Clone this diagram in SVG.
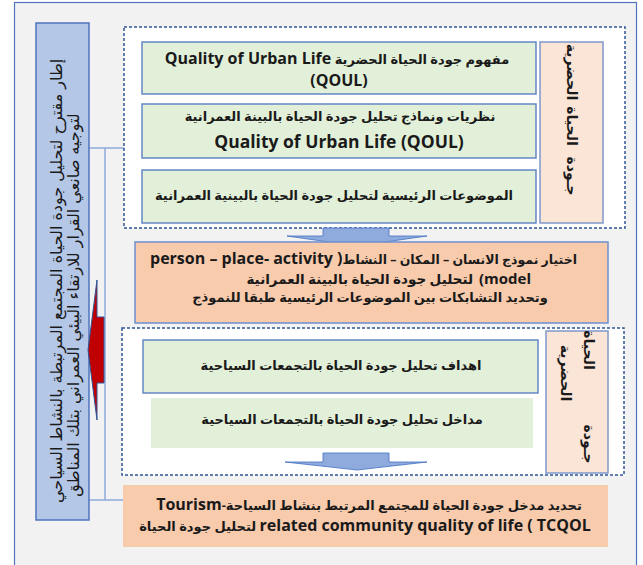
<svg xmlns="http://www.w3.org/2000/svg" width="643" height="565" viewBox="0 0 643 565">
<defs>
<style>
.t{font-family:"Open Sans","DejaVu Sans",sans-serif;font-weight:bold;font-size:13px;fill:#1a1a1a;text-anchor:middle}
.v{font-family:"DejaVu Sans",sans-serif;font-size:16px;fill:#1a1a1a;text-anchor:middle}
.p{font-family:"DejaVu Sans",sans-serif;font-weight:bold;font-size:14px;fill:#1a1a1a;text-anchor:middle}
.green{fill:#e2f0d9;stroke:#6486c6;stroke-width:1.5}
.peach{fill:#fbe5d6;stroke:#7f99cc;stroke-width:1.5}
.dash{fill:#ffffff;stroke:#2f5597;stroke-width:1.5;stroke-dasharray:3 2}
.barrow{fill:#8faadc;stroke:#4472c4;stroke-width:0.8}
</style>
</defs>
<rect x="14.5" y="2.5" width="622" height="575" fill="#f2f2f2" stroke="#4f74bd" stroke-width="1.2"/>

<g id="connectors" fill="none" stroke="#8faadc" stroke-width="1.5">
<path d="M89,148 H142 M105,148 V500 M89,500 H123"/>
</g>

<g id="frame-box">
<rect x="36" y="23" width="53" height="497" fill="#b4c7e7" stroke="#4f74bd" stroke-width="1.5"/>
<text class="v" transform="translate(62,281) rotate(-90)" direction="rtl">إطار مقترح لتحليل جودة الحياة المجتمع المرتبطة بالنشاط السياحي</text>
<text class="v" transform="translate(79,305) rotate(-90)" direction="rtl">لتوجيه صانعي القرار للارتقاء البيئي العمراني بتلك المناطق</text>
</g>

<g id="red-arrow">
<polygon points="88,350 97,280 97,317 104,317 104,383 97,383 97,420" fill="#c00000" stroke="#2f5597" stroke-width="1"/>
</g>

<g id="group1">
<rect class="dash" x="124" y="27" width="501" height="201"/>
</g>

<g id="arrow1">
<polygon class="barrow" points="323,228 389,228 389,236 427,236 357,246 287,236 323,236"/>
</g>

<g id="box1">
<rect class="green" x="142" y="42" width="394" height="52"/>
<text class="t" x="337" y="64"><tspan style="font-size:16px">Quality of Urban Life</tspan> مفهوم جودة الحياة الحضرية</text>
<text class="t" x="339" y="86" style="font-size:16px">(QOUL)</text>
</g>

<g id="box2">
<rect class="green" x="142" y="104" width="394" height="54"/>
<text class="t" x="340" y="121" direction="rtl">نظريات ونماذج تحليل جودة الحياة بالبينة العمرانية</text>
<text class="t" x="339" y="148" style="font-size:17.5px">Quality of Urban Life (QOUL)</text>
</g>

<g id="box3">
<rect class="green" x="142" y="170" width="394" height="53"/>
<text class="t" x="334" y="200" direction="rtl">الموضوعات الرئيسية لتحليل جودة الحياة بالبينية العمرانية</text>
</g>

<g id="label1">
<rect class="peach" x="540" y="42" width="63" height="181"/>
<text class="p" transform="translate(567,72) rotate(90)">الحضرية</text>
<text class="p" transform="translate(567,126) rotate(90)">الحياة</text>
<text class="p" transform="translate(567,176) rotate(90)">جـودة</text>
</g>

<g id="box-model">
<rect x="135" y="242" width="473" height="81" fill="#f8cbad" stroke="#6d8fcf" stroke-width="1.5"/>
<text class="t" x="150" y="264" style="font-size:16px;text-anchor:start">person – place- activity )</text>
<text class="t" x="577" y="264" style="font-size:12.5px;text-anchor:end">اختيار نموذج الانسان – المكان – النشاط</text>
<text class="t" x="473" y="284" style="font-size:13.5px;text-anchor:end">لتحليل جودة الحياة بالبينة العمرانية</text>
<text class="t" x="479" y="284" style="font-size:15px;text-anchor:start">(model</text>
<text class="t" x="370" y="302" direction="rtl">وتحديد التشابكات بين الموضوعات الرئيسية طبقا للنموذج</text>
</g>

<g id="group2">
<rect class="dash" x="122" y="328" width="502" height="147"/>
</g>

<g id="box4">
<rect class="green" x="143" y="340" width="395" height="53"/>
<text class="t" x="341" y="370" direction="rtl">اهداف تحليل جودة الحياة بالتجمعات السياحية</text>
</g>

<g id="box5">
<rect x="151" y="398" width="382" height="50" fill="#e2f0d9"/>
<text class="t" x="342" y="424" direction="rtl">مداخل تحليل جودة الحياة بالتجمعات السياحية</text>
</g>

<g id="label2">
<rect class="peach" x="546" y="331" width="62" height="142"/>
<text class="p" transform="translate(584,350) rotate(90)">الحياة</text>
<text class="p" transform="translate(561,373) rotate(90)">الحضرية</text>
<text class="p" transform="translate(584,444) rotate(90)">جـودة</text>
</g>

<g id="arrow2">
<polygon class="barrow" points="323,453 389,453 389,462 427,462 357,470 285,462 323,462"/>
</g>

<g id="box-tcqol">
<rect x="123" y="485" width="485" height="62" fill="#f8cbad"/>
<text class="t" x="369" y="510" direction="rtl">تحديد مدخل جودة الحياة للمجتمع المرتبط بنشاط السياحة-<tspan style="font-size:16px">Tourism</tspan></text>
<text class="t" x="365" y="531" direction="rtl"><tspan style="font-size:16px">related community quality of life ( TCQOL</tspan> لتحليل جودة الحياة</text>
</g>
</svg>
